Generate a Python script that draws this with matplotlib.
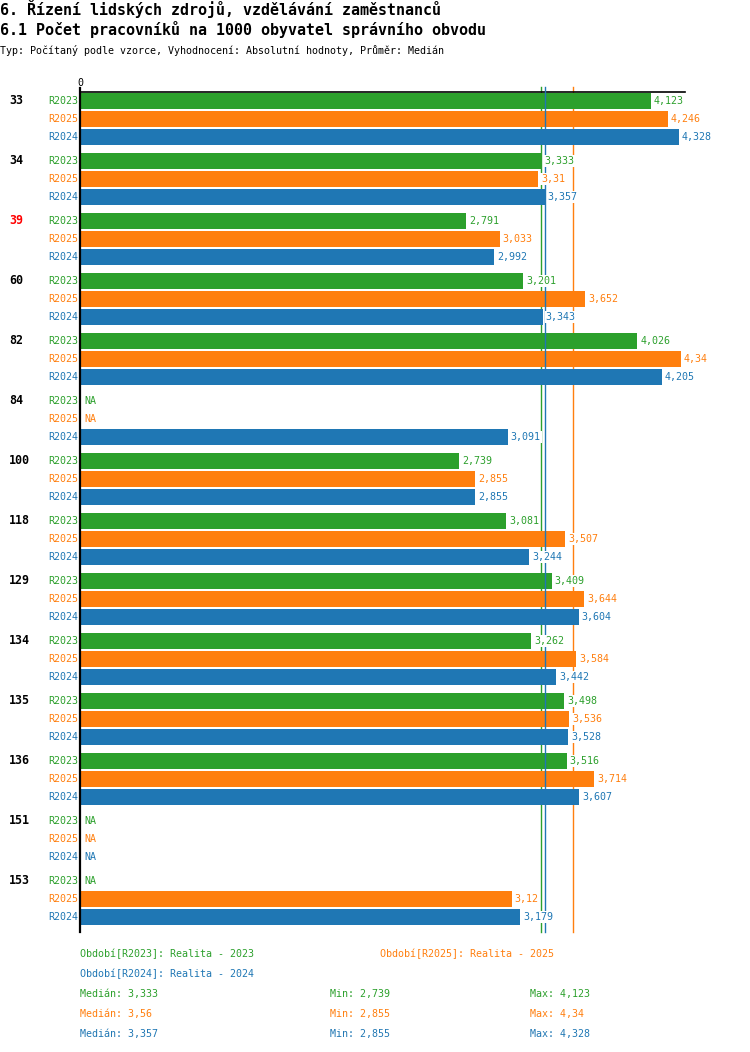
import numpy as np
import matplotlib
matplotlib.use("Agg")
import matplotlib.pyplot as plt

# ---------------- data ----------------
categories = ["33", "34", "39", "60", "82", "84", "100", "118", "129", "134", "135", "136", "151", "153"]
highlight = ["39"]
series_names = ["R2023", "R2025", "R2024"]
series_desc = ["Realita - 2023", "Realita - 2025", "Realita - 2024"]
NA = np.nan
r2023 = [4.123, 3.333, 2.791, 3.201, 4.026, NA, 2.739, 3.081, 3.409, 3.262, 3.498, 3.516, NA, NA]
r2025 = [4.246, 3.31, 3.033, 3.652, 4.34, NA, 2.855, 3.507, 3.644, 3.584, 3.536, 3.714, NA, 3.12]
r2024 = [4.328, 3.357, 2.992, 3.343, 4.205, 3.091, 2.855, 3.244, 3.604, 3.442, 3.528, 3.607, NA, 3.179]
series_values = [r2023, r2025, r2024]
colors = ["#2ca02c", "#ff7f0e", "#1f77b4"]

title1 = "6. Řízení lidských zdrojů, vzdělávání zaměstnanců"
title2 = "6.1 Počet pracovníků na 1000 obyvatel správního obvodu"
subtitle = "Typ: Počítaný podle vzorce, Vyhodnocení: Absolutní hodnoty, Průměr: Medián"

# ---------------- layout ----------------
W, H = 750, 1052
DPI = 100
MONO = ["DejaVu Sans Mono"]
FS = 7.2

def fmt(v):
    s = f"{v:.3f}".rstrip("0").rstrip(".")
    return s.replace(".", ",")

def fx(x):
    return x / W

def fy(y):
    return 1 - y / H

fig = plt.figure(figsize=(W / DPI, H / DPI), dpi=DPI)
ax_left, ax_right, ax_top, ax_bot = 80, 685, 92, 932
ax = fig.add_axes([fx(ax_left), fy(ax_bot), (ax_right - ax_left) / W, (ax_bot - ax_top) / H])

px_per_unit = 138.4
ax.set_xlim(0, (ax_right - ax_left) / px_per_unit)
GROUP = 60
ROW = 18
ax.set_ylim(len(categories) * GROUP - GROUP + 2 * ROW + 15, -9)

px2pt = 72 / DPI

for s, (vals, col, name) in enumerate(zip(series_values, colors, series_names)):
    for g, v in enumerate(vals):
        y = g * GROUP + s * ROW
        if not np.isnan(v):
            ax.barh(y, v, height=16, color=col, zorder=2)
            ax.annotate(fmt(v), xy=(v, y), xytext=(3 * px2pt, 0), textcoords="offset points",
                        ha="left", va="center", fontsize=FS, family=MONO, color=col, zorder=5,
                        bbox=dict(facecolor="white", edgecolor="none", pad=0.6))
        else:
            ax.annotate("NA", xy=(0, y), xytext=(4 * px2pt, 0), textcoords="offset points",
                        ha="left", va="center", fontsize=FS, family=MONO, color=col, zorder=5)
        ax.annotate(name, xy=(0, y), xycoords=("axes fraction", "data"),
                    xytext=(-2 * px2pt, 0), textcoords="offset points",
                    ha="right", va="center", fontsize=FS, family=MONO, color=col)

for g, cat in enumerate(categories):
    ax.annotate(cat, xy=(0, g * GROUP), xycoords=("axes fraction", "data"),
                xytext=(-71 * px2pt, 0), textcoords="offset points",
                ha="left", va="center", fontsize=8.4, family=MONO, fontweight="bold",
                color="#ff0000" if cat in highlight else "black")

# median lines
medians = [np.nanmedian(v) for v in series_values]
mins = [np.nanmin(v) for v in series_values]
maxs = [np.nanmax(v) for v in series_values]
zs = [1, 1, 3]
for m, col, z in zip(medians, colors, zs):
    ax.axvline(m, ymin=0, ymax=1 + 5 / 840, color=col, lw=1.0, clip_on=False, zorder=z)

# axes styling
for sp in ["right", "bottom", "left"]:
    ax.spines[sp].set_visible(False)
ax.spines["top"].set_linewidth(1.2)
ax.axvline(0, ymin=0, ymax=1 + 4 / 840, color="black", lw=1.6, clip_on=False, zorder=6)
ax.set_yticks([])
ax.xaxis.tick_top()
ax.set_xticks([0])
ax.set_xticklabels(["0"], fontsize=FS, family=MONO)
ax.tick_params(axis="x", length=0, pad=3)
ax.set_facecolor("white")

# titles
fig.text(fx(0), fy(9), title1, fontsize=10.8, family=MONO, fontweight="bold", va="center", ha="left")
fig.text(fx(0), fy(30), title2, fontsize=10.8, family=MONO, fontweight="bold", va="center", ha="left")
fig.text(fx(0), fy(51), subtitle, fontsize=FS, family=MONO, va="center", ha="left")

# legend
fig.text(fx(80), fy(954), f"Období[{series_names[0]}]: {series_desc[0]}", fontsize=FS, family=MONO,
         color=colors[0], va="center")
fig.text(fx(380), fy(954), f"Období[{series_names[1]}]: {series_desc[1]}", fontsize=FS, family=MONO,
         color=colors[1], va="center")
fig.text(fx(80), fy(974), f"Období[{series_names[2]}]: {series_desc[2]}", fontsize=FS, family=MONO,
         color=colors[2], va="center")
for i, (m, mn, mx, col) in enumerate(zip(medians, mins, maxs, colors)):
    y = 994 + 20 * i
    fig.text(fx(80), fy(y), f"Medián: {fmt(m)}", fontsize=FS, family=MONO, color=col, va="center")
    fig.text(fx(330), fy(y), f"Min: {fmt(mn)}", fontsize=FS, family=MONO, color=col, va="center")
    fig.text(fx(530), fy(y), f"Max: {fmt(mx)}", fontsize=FS, family=MONO, color=col, va="center")

fig.savefig("out.png", dpi=DPI, facecolor="white")
